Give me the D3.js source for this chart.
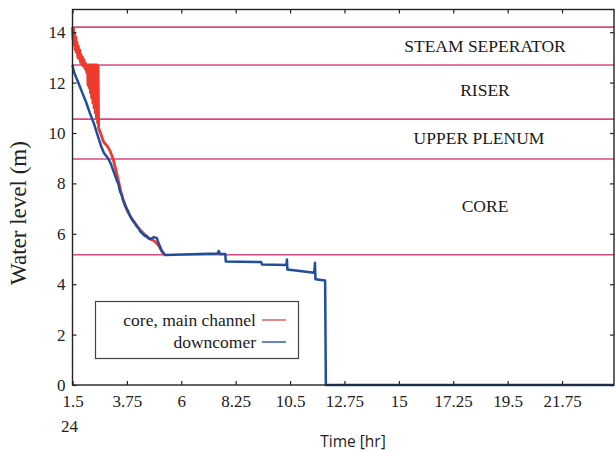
<!DOCTYPE html>
<html>
<head>
<meta charset="utf-8">
<script src="https://cdn.jsdelivr.net/npm/d3@7/dist/d3.min.js"></script>
<style>
  html, body { margin: 0; padding: 0; background: #ffffff; }
  svg { display: block; }
  .tick line { stroke: #222; stroke-width: 1.2; }
</style>
</head>
<body>
<svg id="chart" width="615" height="453"></svg>
<script>
// Time axis ticks (hours) and level ticks (metres)
const timeTicks = [1.5, 3.75, 6, 8.25, 10.5, 12.75, 15, 17.25, 19.5, 21.75];
const levelTicks = [0, 2, 4, 6, 8, 10, 12, 14];
const timeEndLabel = "24";

// Elevations of the vessel region boundaries (m)
const boundaryLevels = [14.2, 12.7, 10.55, 8.97, 5.17];
// Region names and the level at which each is written
const regionNames = ["STEAM SEPERATOR", "RISER", "UPPER PLENUM", "CORE"];
const regionLevels = [13.45, 11.7, 9.8, 7.1];

// Core, main channel water level
const coreTime = [1.50, 1.52, 1.54, 1.56, 1.59, 1.61, 1.64, 1.66, 1.69, 1.72, 1.74, 1.77, 1.80, 1.83, 1.86,
  1.89, 1.92, 1.95, 1.98, 2.02, 2.05, 2.09, 2.12, 2.14, 2.16, 2.19, 2.21, 2.24, 2.26, 2.29, 2.31, 2.34,
  2.36, 2.39, 2.41, 2.44, 2.46, 2.49, 2.51, 2.54, 2.56, 2.58, 2.66, 2.78, 2.92, 3.05, 3.17, 3.28, 3.40,
  3.52, 3.66, 3.80, 3.95, 4.10, 4.30, 4.50, 4.70, 4.90, 5.05, 5.20, 5.30];
const coreLevel = [14.2, 13.7, 14.15, 13.5, 13.95, 13.3, 13.8, 13.2, 13.6, 13.0, 13.45, 12.95, 13.3, 12.8, 13.1,
  12.7, 13.0, 12.65, 12.9, 12.55, 12.75, 12.4, 12.7, 11.9, 12.7, 11.8, 12.7, 11.6, 12.7, 11.4, 12.7, 11.2,
  12.7, 11.0, 12.7, 10.8, 12.7, 10.6, 12.7, 10.4, 12.65, 10.2, 10.0, 9.65, 9.5, 9.3, 9.0, 8.6, 8.1,
  7.6, 7.15, 6.85, 6.6, 6.4, 6.15, 5.95, 5.8, 5.7, 5.55, 5.3, 5.17];

// Downcomer water level
const downTime = [1.50, 1.56, 1.73, 1.89, 2.06, 2.22, 2.39, 2.55, 2.68, 2.80, 2.97, 3.09, 3.21, 3.34, 3.40,
  3.46, 3.55, 3.60, 3.63, 3.75, 3.80, 3.88, 4.00, 4.05, 4.12, 4.25, 4.30, 4.37, 4.50, 4.55, 4.62, 4.74,
  4.87, 4.99, 5.07, 5.20, 5.32, 7.50, 7.55, 7.60, 7.82, 7.84, 9.30, 9.34, 10.35, 10.37, 10.39, 11.50,
  11.53, 11.55, 11.95, 11.98, 23.9];
const downLevel = [12.7, 12.42, 12.02, 11.63, 11.23, 10.79, 10.36, 9.88, 9.48, 9.21, 9.0, 8.77, 8.45, 8.1, 7.98,
  7.70, 7.50, 7.30, 7.26, 6.98, 6.90, 6.71, 6.51, 6.46, 6.35, 6.19, 6.10, 6.03, 5.91, 5.93, 5.83, 5.79,
  5.87, 5.83, 5.6, 5.32, 5.16, 5.22, 5.32, 5.2, 5.2, 4.9, 4.88, 4.78, 4.76, 4.98, 4.58, 4.45,
  4.85, 4.2, 4.15, 0, 0];

const seriesNames = ["core, main channel", "downcomer"];

const svg = d3.select("#chart");
const x = d3.scaleLinear().domain([1.5, 23.9]).range([72.5, 614]);
const y = d3.scaleLinear().domain([0, 14.9]).range([385, 9.5]);

const serif = '"Liberation Serif", "Times New Roman", serif';

// Region boundary lines
svg.append("g").selectAll("line").data(boundaryLevels).join("line")
  .attr("x1", x.range()[0]).attr("x2", x.range()[1])
  .attr("y1", d => y(d)).attr("y2", d => y(d))
  .attr("stroke", "#d9487f").attr("stroke-width", 1.6);

// Region names
svg.append("g").selectAll("text").data(regionNames).join("text")
  .attr("x", (d, i) => i === 2 ? 479 : 485)
  .attr("y", (d, i) => y(regionLevels[i]))
  .attr("dy", "0.35em")
  .attr("text-anchor", "middle")
  .attr("font-family", serif).attr("font-size", 17.5)
  .attr("fill", "#1a1a1a")
  .text(d => d);

const line = d3.line().x(d => x(d[0])).y(d => y(d[1]));

svg.append("path")
  .attr("d", line(d3.zip(coreTime, coreLevel)))
  .attr("fill", "none").attr("stroke", "#ee3b2e").attr("stroke-width", 2.8)
  .attr("stroke-linejoin", "round");

svg.append("path")
  .attr("d", line(d3.zip(downTime, downLevel)))
  .attr("fill", "none").attr("stroke", "#1f4f9c").attr("stroke-width", 2.5)
  .attr("stroke-linejoin", "round");

// Legend
const legend = svg.append("g");
legend.append("rect").attr("x", 95.5).attr("y", 301.5).attr("width", 203).attr("height", 57)
  .attr("fill", "#fff").attr("stroke", "#444").attr("stroke-width", 1.2);
const legendColors = ["#e8676b", "#3a67a8"];
seriesNames.forEach((name, i) => {
  const ly = 320 + i * 22;
  legend.append("text").attr("x", 256).attr("y", ly).attr("dy", "0.35em")
    .attr("text-anchor", "end").attr("font-family", serif).attr("font-size", 17.5)
    .attr("fill", "#1a1a1a").text(name);
  legend.append("line").attr("x1", 262).attr("x2", 286).attr("y1", ly).attr("y2", ly)
    .attr("stroke", legendColors[i]).attr("stroke-width", 1.6);
});

// Frame and axes with inward ticks
const [x0, x1] = x.range();
const [y0, y1] = y.range();
svg.append("rect").attr("x", x0).attr("y", y1).attr("width", x1 - x0).attr("height", y0 - y1)
  .attr("fill", "none").attr("stroke", "#222").attr("stroke-width", 1.4);

function styleAxis(g) {
  g.select(".domain").remove();
  g.attr("font-family", serif).attr("font-size", 17);
  g.selectAll(".tick text").attr("fill", "#222");
}

svg.append("g").attr("transform", `translate(0,${y0})`)
  .call(d3.axisBottom(x).tickValues(timeTicks).tickFormat(d => String(d))
    .tickSizeInner(-4).tickSizeOuter(0).tickPadding(10))
  .call(styleAxis);

svg.append("g").attr("transform", `translate(0,${y1})`)
  .call(d3.axisTop(x).tickValues(timeTicks).tickFormat("").tickSizeInner(-4).tickSizeOuter(0))
  .call(styleAxis);

svg.append("g").attr("transform", `translate(${x0},0)`)
  .call(d3.axisLeft(y).tickValues(levelTicks).tickFormat(d3.format("d"))
    .tickSizeInner(-4).tickSizeOuter(0).tickPadding(7))
  .call(styleAxis);

svg.append("g").attr("transform", `translate(${x1},0)`)
  .call(d3.axisRight(y).tickValues(levelTicks).tickFormat("").tickSizeInner(-4).tickSizeOuter(0))
  .call(styleAxis);

// Trailing end-of-range label beneath the first time tick
svg.append("text").attr("x", x(1.5) - 3).attr("y", y0 + 10).attr("dy", "2.2em")
  .attr("text-anchor", "middle").attr("font-family", serif).attr("font-size", 17)
  .attr("fill", "#222").text(timeEndLabel);

// Axis titles
svg.append("text").attr("transform", `translate(26,213) rotate(-90)`)
  .attr("text-anchor", "middle").attr("font-family", serif).attr("font-size", 23)
  .attr("fill", "#222").text("Water level (m)");

svg.append("text").attr("x", 353).attr("y", 447)
  .attr("text-anchor", "middle").attr("font-family", '"Open Sans", "Noto Sans", sans-serif')
  .attr("font-size", 15.5).attr("fill", "#222").text("Time [hr]");
</script>
</body>
</html>
